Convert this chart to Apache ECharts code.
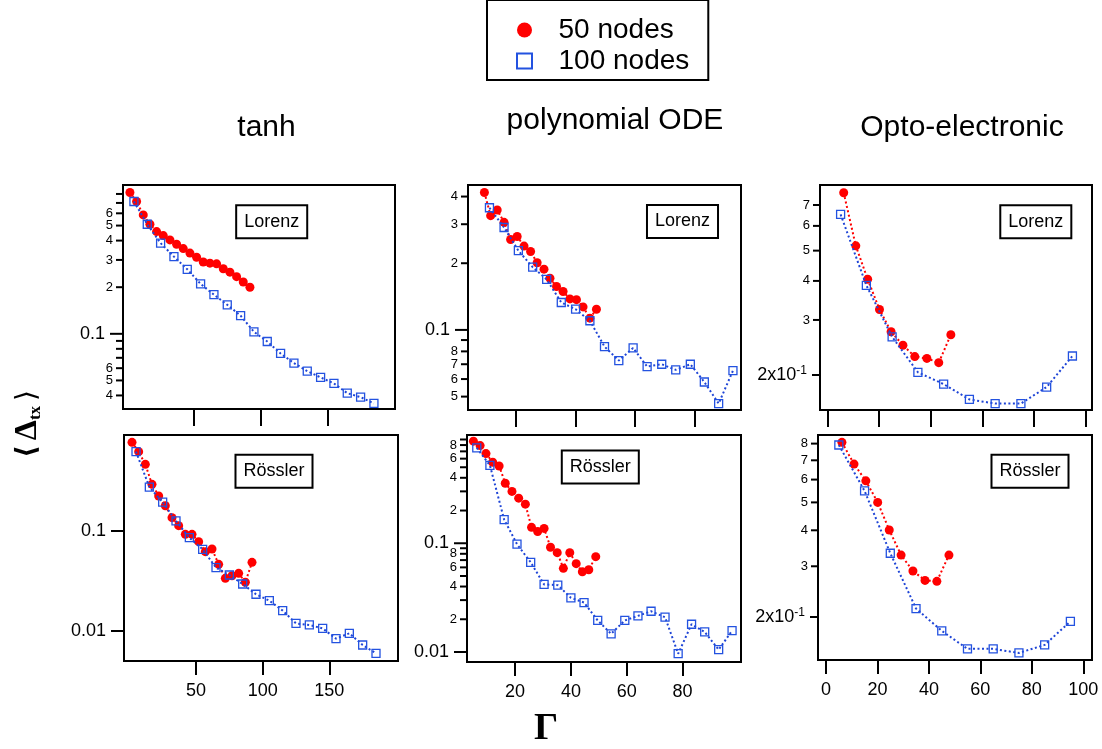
<!DOCTYPE html>
<html><head><meta charset="utf-8">
<script src="https://cdn.jsdelivr.net/npm/echarts@6/dist/echarts.min.js"></script>
<style>html,body{margin:0;padding:0;background:#fff}#c{width:1102px;height:749px}</style>
</head><body><div id="c"></div>
<script>
// ---------- names ----------
const columnTitles = ['tanh', 'polynomial ODE', 'Opto-electronic'];
const systemNames = ['Lorenz', 'Rössler'];
const seriesNames = ['50 nodes', '100 nodes'];

// ---------- data : tanh ----------
const tanhGamma50 = [2, 7, 12, 17, 22, 27, 32, 37, 42, 47, 52, 57, 62, 67, 72, 77, 82, 87, 92];
const tanhGamma100 = [5, 15, 25, 35, 45, 55, 65, 75, 85, 95, 105, 115, 125, 135, 145, 155, 165, 175, 185];
const tanhLorenz50 = [0.817, 0.715, 0.586, 0.510, 0.457, 0.431, 0.404, 0.379, 0.355, 0.332, 0.312, 0.291, 0.286, 0.283, 0.263, 0.250, 0.234, 0.216, 0.200];
const tanhLorenz100 = [0.715, 0.510, 0.385, 0.315, 0.261, 0.210, 0.179, 0.154, 0.131, 0.103, 0.0892, 0.0747, 0.0647, 0.0574, 0.0523, 0.0478, 0.0414, 0.0390, 0.0355];
const tanhRossler50 = [0.770, 0.621, 0.464, 0.293, 0.224, 0.179, 0.136, 0.113, 0.0926, 0.0926, 0.0782, 0.0621, 0.0661, 0.0464, 0.0336, 0.0357, 0.0377, 0.0307, 0.0486];
const tanhRossler100 = [0.621, 0.275, 0.194, 0.126, 0.0858, 0.0656, 0.0430, 0.0363, 0.0295, 0.0233, 0.0201, 0.0160, 0.0119, 0.0115, 0.0106, 0.00838, 0.00948, 0.00724, 0.00598];

// ---------- data : polynomial ODE ----------
const polyLorenzGamma50 = [9.4, 11.5, 13.7, 16.0, 18.2, 20.4, 22.7, 24.9, 27.1, 29.4, 31.4, 33.6, 35.8, 38.1, 40.3, 42.5, 44.8, 47.0];
const polyLorenz50 = [0.417, 0.328, 0.348, 0.306, 0.256, 0.264, 0.239, 0.226, 0.201, 0.188, 0.171, 0.157, 0.149, 0.138, 0.137, 0.127, 0.113, 0.124];
const polyLorenzGamma100 = [11.1, 16.0, 20.8, 25.6, 30.3, 35.2, 40.0, 44.8, 49.7, 54.5, 59.3, 64.0, 68.9, 73.6, 78.5, 83.2, 88.0, 92.8];
const polyLorenz100 = [0.356, 0.290, 0.228, 0.192, 0.169, 0.133, 0.124, 0.110, 0.0841, 0.0727, 0.0829, 0.0683, 0.0700, 0.0660, 0.0700, 0.0582, 0.0465, 0.0655];
const polyRosslerGamma50 = [5.1, 7.5, 9.6, 12.0, 14.3, 16.5, 18.9, 21.3, 23.7, 25.9, 28.1, 30.4, 32.7, 35.1, 37.3, 39.6, 41.9, 44.1, 46.4, 48.9];
const polyRossler50 = [0.869, 0.791, 0.668, 0.556, 0.514, 0.356, 0.300, 0.260, 0.229, 0.140, 0.128, 0.137, 0.0918, 0.0820, 0.0588, 0.0820, 0.0649, 0.0547, 0.0571, 0.0753];
const polyRosslerGamma100 = [6.3, 11.0, 16.1, 20.7, 25.6, 30.4, 35.3, 40.0, 44.7, 49.6, 54.4, 59.3, 64.0, 68.7, 73.7, 78.4, 83.2, 87.9, 92.9, 97.7];
const polyRossler100 = [0.753, 0.521, 0.165, 0.098, 0.0668, 0.0418, 0.0412, 0.0315, 0.0285, 0.0195, 0.0147, 0.0195, 0.0215, 0.0237, 0.0209, 0.00964, 0.0180, 0.0153, 0.0105, 0.0157];

// ---------- data : opto-electronic ----------
const optoGamma50 = [6.2, 10.9, 15.5, 20.1, 24.6, 29.2, 33.8, 38.5, 43.1, 47.8];
const optoGamma100 = [5, 15, 25, 35, 45, 55, 65, 75, 85, 95];
const optoLorenz50 = [0.766, 0.518, 0.405, 0.324, 0.275, 0.249, 0.229, 0.226, 0.219, 0.269];
const optoLorenz100 = [0.653, 0.387, 0.265, 0.204, 0.187, 0.167, 0.162, 0.162, 0.183, 0.230];
const optoRossler50 = [0.808, 0.679, 0.594, 0.500, 0.401, 0.328, 0.289, 0.268, 0.266, 0.328];
const optoRossler100 = [0.791, 0.548, 0.333, 0.214, 0.179, 0.155, 0.155, 0.150, 0.160, 0.193];

// ---------- tick values and labels ----------
const tanhXTicks = [50, 100, 150];
const polyXTicks = [20, 40, 60, 80];
const optoXTicks = [0, 20, 40, 60, 80, 100];
const tanhLorenzYTicks = [0.04, 0.05, 0.06, 0.07, 0.08, 0.09, 0.1, 0.2, 0.3, 0.4, 0.5, 0.6, 0.7, 0.8];
const tanhLorenzYLabels = ['4', '5', '6', '', '', '', '0.1', '2', '3', '4', '5', '6', '', ''];
const tanhRosslerYTicks = [0.01, 0.1];
const tanhRosslerYLabels = ['0.01', '0.1'];
const polyLorenzYTicks = [0.05, 0.06, 0.07, 0.08, 0.09, 0.1, 0.2, 0.3, 0.4];
const polyLorenzYLabels = ['5', '6', '7', '8', '', '0.1', '2', '3', '4'];
const polyRosslerYTicks = [0.01, 0.02, 0.03, 0.04, 0.05, 0.06, 0.07, 0.08, 0.09, 0.1, 0.2, 0.3, 0.4, 0.5, 0.6, 0.7, 0.8, 0.9];
const polyRosslerYLabels = ['0.01', '2', '', '4', '', '6', '', '8', '', '0.1', '2', '', '4', '', '6', '', '8', ''];
const optoLorenzYTicks = [0.2, 0.3, 0.4, 0.5, 0.6, 0.7];
const optoLorenzYLabels = ['2x10^-1', '3', '4', '5', '6', '7'];
const optoRosslerYTicks = [0.2, 0.3, 0.4, 0.5, 0.6, 0.7, 0.8];
const optoRosslerYLabels = ['2x10^-1', '3', '4', '5', '6', '7', '8'];

// ---------- layout (positions / styles) ----------
const FONT = "'Liberation Sans', Arial, Helvetica, sans-serif";
const RED = '#ff0000';
const BLUE = '#2352e0';
const panels = [
  {grid: {left: 123, top: 185, width: 272, height: 224}, xRange: [-3.2, 200.8], yRange: [0.0327, 0.914],
   xTicks: tanhXTicks, xLabels: false, tickLen: 17, yTicks: tanhLorenzYTicks, yLabels: tanhLorenzYLabels,
   g50: tanhGamma50, v50: tanhLorenz50, g100: tanhGamma100, v100: tanhLorenz100, box: {text: systemNames[0], x: 271.7, y: 221.7}},
  {grid: {left: 124, top: 435, width: 274, height: 226}, xRange: [-4.0, 201.5], yRange: [0.00501, 0.912],
   xTicks: tanhXTicks, xLabels: true, tickLen: 14, yTicks: tanhRosslerYTicks, yLabels: tanhRosslerYLabels,
   g50: tanhGamma50, v50: tanhRossler50, g100: tanhGamma100, v100: tanhRossler100, box: {text: systemNames[1], x: 274, y: 471.2}},
  {grid: {left: 468, top: 185, width: 273, height: 225}, xRange: [3.9, 95.5], yRange: [0.0435, 0.451],
   xTicks: polyXTicks, xLabels: false, tickLen: 17, yTicks: polyLorenzYTicks, yLabels: polyLorenzYLabels,
   g50: polyLorenzGamma50, v50: polyLorenz50, g100: polyLorenzGamma100, v100: polyLorenz100, box: {text: systemNames[0], x: 682.5, y: 221.5}},
  {grid: {left: 467, top: 435, width: 274, height: 227}, xRange: [2.8, 100.9], yRange: [0.00809, 0.99],
   xTicks: polyXTicks, xLabels: true, tickLen: 14, yTicks: polyRosslerYTicks, yLabels: polyRosslerYLabels,
   g50: polyRosslerGamma50, v50: polyRossler50, g100: polyRosslerGamma100, v100: polyRossler100, box: {text: systemNames[1], x: 600.3, y: 467}},
  {grid: {left: 820, top: 185, width: 272, height: 225}, xRange: [-3.0, 102.6], yRange: [0.1545, 0.811],
   xTicks: optoXTicks, xLabels: false, tickLen: 17, yTicks: optoLorenzYTicks, yLabels: optoLorenzYLabels,
   g50: optoGamma50, v50: optoLorenz50, g100: optoGamma100, v100: optoLorenz100, box: {text: systemNames[0], x: 1035.8, y: 221.7}},
  {grid: {left: 818, top: 435, width: 274, height: 225}, xRange: [-3.1, 103.4], yRange: [0.1418, 0.857],
   xTicks: optoXTicks, xLabels: true, tickLen: 14, yTicks: optoRosslerYTicks, yLabels: optoRosslerYLabels,
   g50: optoGamma50, v50: optoRossler50, g100: optoGamma100, v100: optoRossler100, box: {text: systemNames[1], x: 1030, y: 471.2}}
];

const zip = (xs, ys) => xs.map((x, k) => [x, ys[k]]);

const chart = echarts.init(document.getElementById('c'));
const option = {
  animation: false,
  backgroundColor: '#fff',
  legend: {
    data: [{name: seriesNames[0], icon: 'circle'}, {name: seriesNames[1], icon: 'path://M0,0L10,0L10,10L0,10Z'}],
    orient: 'vertical', left: 487, top: 0,
    itemWidth: 58, itemHeight: 15, itemGap: 3, symbolKeepAspect: true,
    padding: [16, 19, 5, 29],
    borderColor: '#000', borderWidth: 2,
    selectedMode: false,
    textStyle: {fontSize: 28, color: '#000', fontFamily: FONT}
  },
  grid: panels.map(p => Object.assign({show: true, borderColor: '#000', borderWidth: 2, backgroundColor: 'transparent', containLabel: false}, p.grid)),
  xAxis: panels.map((p, i) => ({
    type: 'value', gridIndex: i, min: p.xRange[0], max: p.xRange[1],
    axisLine: {show: false, onZero: false},
    splitLine: {show: false},
    axisTick: {show: true, customValues: p.xTicks, length: p.tickLen, lineStyle: {color: '#000', width: 2}},
    axisLabel: {show: p.xLabels, customValues: p.xTicks, fontSize: 18, color: '#000', fontFamily: FONT, margin: 21}
  })),
  yAxis: panels.map((p, i) => ({
    type: 'log', gridIndex: i, min: p.yRange[0], max: p.yRange[1],
    axisLine: {show: false}, axisTick: {show: false}, axisLabel: {show: false}, splitLine: {show: false}
  })),
  series: []
};
panels.forEach((p, i) => {
  option.series.push({
    type: 'line', name: seriesNames[0], xAxisIndex: i, yAxisIndex: i, data: zip(p.g50, p.v50),
    symbol: 'circle', symbolSize: 9, itemStyle: {color: RED},
    lineStyle: {color: RED, width: 2, type: [2, 2.5]}, emphasis: {disabled: true}, z: 2
  });
  option.series.push({
    type: 'line', name: seriesNames[1], xAxisIndex: i, yAxisIndex: i, data: zip(p.g100, p.v100),
    symbol: 'rect', symbolSize: 8, itemStyle: {color: 'rgba(255,255,255,0)', borderColor: BLUE, borderWidth: 1.3},
    lineStyle: {color: '#1e44d6', width: 2, type: [2, 2.5]}, emphasis: {disabled: true}, z: 3
  });
});
chart.setOption(option);

// ---------- text and y ticks drawn through the axes' own scales ----------
const g = [];
panels.forEach((p, i) => {
  const left = chart.convertToPixel({gridIndex: i}, [p.xRange[0], p.yRange[0]])[0];
  p.yTicks.forEach((v, k) => {
    const py = chart.convertToPixel({gridIndex: i}, [p.xRange[0], v])[1];
    const lab = p.yLabels[k];
    const isSci = lab.indexOf('^') >= 0;
    const isMajor = !isSci && lab.length > 1;
    const len = isMajor ? 13 : (isSci ? 8 : 7);
    g.push({type: 'line', silent: true, shape: {x1: left - len, y1: py, x2: left, y2: py}, style: {stroke: '#000', lineWidth: 2}});
    if (!lab) return;
    if (isSci) {
      const parts = lab.split('^');
      g.push({type: 'text', silent: true, style: {
        text: '{m|' + parts[0] + '}{s|' + parts[1] + '}', x: left - len - 5, y: py, align: 'right', verticalAlign: 'middle', fill: '#000',
        rich: {m: {fontSize: 18, fontFamily: FONT, lineHeight: 20}, s: {fontSize: 12, fontFamily: FONT, verticalAlign: 'top', lineHeight: 12}}}});
    } else {
      g.push({type: 'text', silent: true, style: {
        text: lab, x: left - len - (isMajor ? 5 : 3), y: py, align: 'right', verticalAlign: 'middle', fill: '#000',
        font: (isMajor ? 18 : 13) + 'px ' + FONT}});
    }
  });
  g.push({type: 'text', silent: true, z: 10, style: {
    text: p.box.text, x: p.box.x, y: p.box.y, align: 'center', verticalAlign: 'middle', fill: '#000',
    font: '18px ' + FONT, lineHeight: 19, padding: [6, 7, 6, 7], borderColor: '#000', borderWidth: 2, backgroundColor: '#fff'}});
});
const titlePos = [[266.5, 127.5], [615, 121], [962, 127.5]];
columnTitles.forEach((t, k) => {
  g.push({type: 'text', silent: true, style: {text: t, x: titlePos[k][0], y: titlePos[k][1], align: 'center', verticalAlign: 'middle', fill: '#000', font: '30px ' + FONT}});
});
g.push({type: 'text', silent: true, x: 28, y: 424, rotation: Math.PI / 2, style: {
  text: '{b|⟨} {d|Δ}{s|tx} {c|⟩}', align: 'center', verticalAlign: 'middle', fill: '#000', font: '20px serif',
  rich: {
    b: {font: "bold 28px 'DejaVu Sans'"},
    c: {font: "28px 'DejaVu Sans'"},
    d: {font: "bold 32px 'Liberation Serif', 'DejaVu Serif', serif"},
    s: {font: "bold 17px 'Liberation Serif', 'DejaVu Serif', serif", verticalAlign: 'bottom'}
  }}});
g.push({type: 'text', silent: true, style: {text: 'Γ', x: 546, y: 729, align: 'center', verticalAlign: 'middle', fill: '#000', font: "bold 38px 'Liberation Serif', 'DejaVu Serif', serif"}});
chart.setOption({graphic: {elements: g}});
</script>
</body></html>
